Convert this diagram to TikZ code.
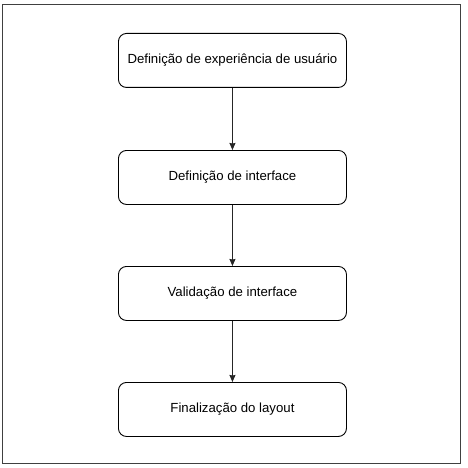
\documentclass[tikz,border=0pt]{standalone}
\usepackage{fontspec}
\setmainfont{Liberation Sans}
\usetikzlibrary{arrows.meta}
\begin{document}
\begin{tikzpicture}[x=1pt,y=-1pt,
  stepbox/.style={draw=black,line width=0.9pt,rounded corners=8pt,minimum width=228pt,minimum height=54pt,inner sep=0pt,font=\fontsize{13.2}{15}\selectfont,anchor=north west},
  conn/.style={draw=black!85,line width=0.9pt,-{Stealth[length=7pt,width=6pt,inset=0.5pt]}}]
\useasboundingbox (0,0) rectangle (467,468);
\draw[draw=black!75,line width=1pt] (2.5,4.5) rectangle (460.5,463.5);
\node[stepbox] (a) at (118,33) {Definição de experiência de usuário};
\node[stepbox] (b) at (118,150) {Definição de interface};
\node[stepbox] (c) at (118,266) {Validação de interface};
\node[stepbox] (d) at (118,382) {Finalização do layout};
\draw[conn] (a) -- (b);
\draw[conn] (b) -- (c);
\draw[conn] (c) -- (d);
\end{tikzpicture}
\end{document}
